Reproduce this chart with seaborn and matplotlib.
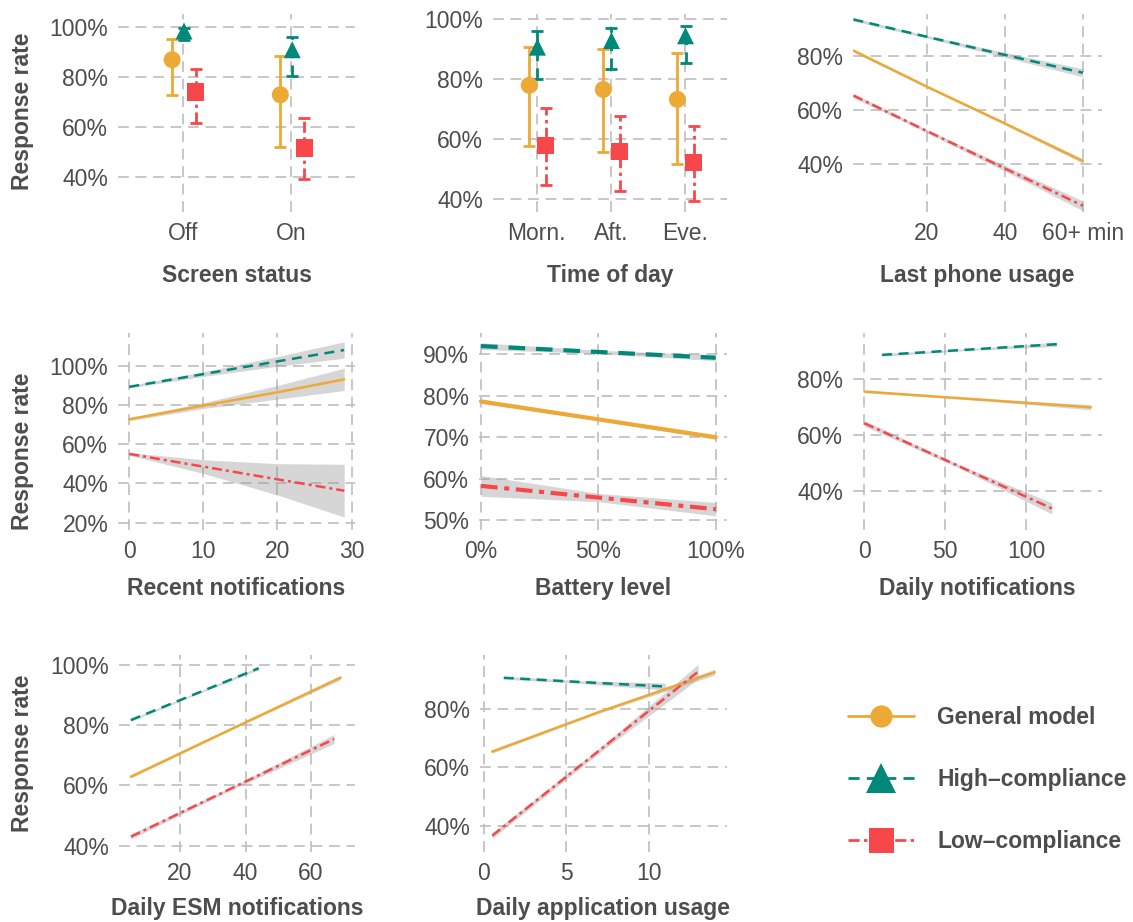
import matplotlib
matplotlib.use("Agg")
import matplotlib.pyplot as plt
import matplotlib.transforms as mtransforms
from matplotlib.lines import Line2D
import pandas as pd
import seaborn as sns

sns.set_theme(style="white")
plt.rcParams['font.family'] = ['Liberation Sans', 'DejaVu Sans']

models = ["General model", "High\u2013compliance", "Low\u2013compliance"]
colors = ["#EDA936", "#00897A", "#F7474A"]
dash_seq = ["", (4, 2.6), (4, 1.6, 1.2, 1.6)]
markers = ["o", "^", "s"]
dodge = [-0.1, 0.01, 0.12]

# --- screen status (point + CI) ---
screen_cats = ["Off", "On"]
screen_gen = [86.9, 72.9]
screen_gen_lo = [72.7, 52.0]
screen_gen_hi = [95.1, 88.4]
screen_high = [98.4, 90.9]
screen_high_lo = [94.7, 80.3]
screen_high_hi = [99.8, 96.0]
screen_low = [74.0, 51.6]
screen_low_lo = [61.7, 39.1]
screen_low_hi = [83.3, 63.7]

# --- time of day (point + CI) ---
tod_cats = ["Morn.", "Aft.", "Eve."]
tod_gen = [77.9, 76.5, 73.2]
tod_gen_lo = [57.8, 55.8, 51.8]
tod_gen_hi = [90.6, 90.1, 88.7]
tod_high = [90.6, 92.8, 94.4]
tod_high_lo = [80.1, 83.4, 85.4]
tod_high_hi = [96.0, 96.9, 97.5]
tod_low = [57.8, 55.8, 52.3]
tod_low_lo = [44.6, 42.7, 39.3]
tod_low_hi = [70.2, 67.7, 64.4]

# --- last phone usage ---
lpu_x = [1.2, 20, 40, 60]
lpu_gen = [82.0, 68.7, 55.1, 41.2]
lpu_gen_se = [0.6, 0.4, 0.5, 0.8]
lpu_high = [93.5, 87.1, 80.4, 73.8]
lpu_high_se = [0.6, 0.5, 0.9, 1.5]
lpu_low = [65.4, 52.3, 38.5, 24.7]
lpu_low_se = [0.8, 0.6, 1.0, 1.8]

# --- recent notifications ---
rn_x = [0, 10, 20, 29]
rn_gen = [72.8, 79.8, 86.6, 93.2]
rn_gen_se = [0.7, 1.5, 3.5, 5.7]
rn_high = [89.4, 95.9, 102.4, 108.2]
rn_high_se = [0.6, 1.2, 2.5, 4.2]
rn_low = [55.1, 48.6, 42.1, 36.3]
rn_low_se = [0.7, 3.5, 8.0, 13.5]

# --- battery level ---
bat_x = [0, 50, 100]
bat_gen = [78.6, 74.3, 70.0]
bat_gen_se = [0.5, 0.3, 0.5]
bat_high = [91.9, 90.5, 89.1]
bat_high_se = [0.8, 0.4, 0.7]
bat_low = [58.3, 55.5, 52.7]
bat_low_se = [2.5, 1.0, 1.6]

# --- daily notifications ---
dn_gen_x = [0, 70, 140]
dn_gen = [75.5, 72.7, 69.9]
dn_gen_se = [0.4, 0.3, 0.9]
dn_high_x = [11, 65, 119]
dn_high = [88.6, 90.5, 92.4]
dn_high_se = [0.5, 0.3, 0.8]
dn_low_x = [0, 58, 116]
dn_low = [64.2, 49.0, 33.8]
dn_low_se = [1.0, 0.6, 2.0]

# --- daily ESM notifications ---
esm_gen_x = [5, 37, 69]
esm_gen = [62.9, 79.4, 95.8]
esm_gen_se = [0.4, 0.3, 0.7]
esm_high_x = [5, 24.5, 44]
esm_high = [81.7, 90.3, 98.9]
esm_high_se = [0.4, 0.3, 0.5]
esm_low_x = [5, 36, 67]
esm_low = [43.0, 59.2, 75.4]
esm_low_se = [0.8, 0.5, 1.5]

# --- daily application usage ---
app_gen_x = [0.5, 7, 14]
app_gen = [65.4, 79.0, 92.6]
app_gen_se = [0.5, 0.4, 1.0]
app_high_x = [1.2, 6, 11]
app_high = [90.7, 89.2, 87.7]
app_high_se = [0.5, 0.5, 1.2]
app_low_x = [0.5, 7, 13]
app_low = [36.6, 65.8, 92.8]
app_low_se = [1.0, 0.8, 2.5]

TXT = "#4D4D4D"
W, H = 1133, 922
fig = plt.figure(figsize=(W / 100, H / 100), dpi=100)


def add_panel(left, right, top, bottom):
    return fig.add_axes([left / W, 1 - bottom / H, (right - left) / W, (bottom - top) / H])


def style(ax, xlim, ylim, xticks, xlabels, yticks, xlab, xlab_top, ylab=None):
    ax.set_xlim(xlim)
    ax.set_ylim(ylim)
    ax.set_xticks(xticks)
    ax.set_xticklabels(xlabels)
    ax.set_yticks(yticks)
    ax.set_yticklabels([f"{v:g}%" for v in yticks])
    ax.grid(True, color="#BEBEBE", linewidth=1.2, linestyle=(0, (6.5, 4)))
    ax.set_axisbelow(True)
    for s in ax.spines.values():
        s.set_visible(False)
    ax.tick_params(length=0, labelsize=16.5, labelcolor=TXT, pad=7)
    ax.set_xlabel(xlab, fontsize=16.5, fontweight="bold", color=TXT)
    tr = mtransforms.blended_transform_factory(ax.transAxes, fig.transFigure)
    ax.xaxis.set_label_coords(0.5, 1 - xlab_top / H, transform=tr)
    if ylab is not None:
        ax.set_ylabel("Response rate", fontsize=16.5, fontweight="bold", color=TXT)
        tr2 = mtransforms.blended_transform_factory(fig.transFigure, fig.transFigure)
        ax.yaxis.set_label_coords(34 / W, 1 - ylab / H, transform=tr2)
    else:
        ax.set_ylabel("")


def point_panel(ax, cats, series):
    rows = []
    for k, (m, rate, lo, hi) in enumerate(series):
        for i in range(len(cats)):
            rows.append({"model": m, "pos": i + dodge[k], "rate": rate[i], "lo": lo[i], "hi": hi[i]})
    df = pd.DataFrame(rows)
    for k, m in enumerate(models):
        d = df[df.model == m]
        eb = ax.errorbar(d.pos, d.rate, yerr=[d.rate - d.lo, d.hi - d.rate], fmt="none",
                         ecolor=colors[k], elinewidth=2.0, capsize=4.2, capthick=2.0, zorder=3)
        if dash_seq[k]:
            eb[2][0].set_linestyle((0, dash_seq[k]))
    sns.scatterplot(data=df, x="pos", y="rate", hue="model", style="model",
                    palette=dict(zip(models, colors)), markers=dict(zip(models, markers)),
                    s=150, linewidth=0, legend=False, ax=ax, zorder=4)


def line_panel(ax, series, lw=1.8):
    rows = []
    for m, xs, ys, se in series:
        for x, y, e in zip(xs, ys, se):
            rows.append({"model": m, "x": x, "y": y, "lo": y - e, "hi": y + e})
    df = pd.DataFrame(rows)
    for m in models:
        d = df[df.model == m]
        ax.fill_between(d.x, d.lo, d.hi, color="#999999", alpha=0.4, linewidth=0, zorder=2)
    sns.lineplot(data=df, x="x", y="y", hue="model", style="model",
                 palette=dict(zip(models, colors)), dashes=dict(zip(models, dash_seq)),
                 estimator=None, linewidth=lw, legend=False, ax=ax, zorder=3)


# row 1
ax1 = add_panel(118, 355, 14, 212)
point_panel(ax1, screen_cats, [
    (models[0], screen_gen, screen_gen_lo, screen_gen_hi),
    (models[1], screen_high, screen_high_lo, screen_high_hi),
    (models[2], screen_low, screen_low_lo, screen_low_hi)])
style(ax1, (-0.6, 1.59), (26, 105.2), [0, 1], screen_cats, [40, 60, 80, 100],
      "Screen status", 264, ylab=111.5)

ax2 = add_panel(493, 727, 14, 212)
point_panel(ax2, tod_cats, [
    (models[0], tod_gen, tod_gen_lo, tod_gen_hi),
    (models[1], tod_high, tod_high_lo, tod_high_hi),
    (models[2], tod_low, tod_low_lo, tod_low_hi)])
style(ax2, (-0.59, 2.57), (35.7, 101.65), [0, 1, 2], tod_cats, [40, 60, 80, 100],
      "Time of day", 264)

ax3 = add_panel(853, 1102, 14, 212)
line_panel(ax3, [(models[0], lpu_x, lpu_gen, lpu_gen_se),
                 (models[1], lpu_x, lpu_high, lpu_high_se),
                 (models[2], lpu_x, lpu_low, lpu_low_se)])
style(ax3, (1.1, 64.9), (22.4, 95.5), [20, 40, 60], ["20", "40", "60+ min"], [40, 60, 80],
      "Last phone usage", 264)

# row 2
ax4 = add_panel(118, 355, 333, 530)
line_panel(ax4, [(models[0], rn_x, rn_gen, rn_gen_se),
                 (models[1], rn_x, rn_high, rn_high_se),
                 (models[2], rn_x, rn_low, rn_low_se)])
style(ax4, (-1.52, 30.46), (16.2, 116.9), [0, 10, 20, 30], ["0", "10", "20", "30"],
      [20, 40, 60, 80, 100], "Recent notifications", 577, ylab=451)

ax5 = add_panel(479, 727, 333, 530)
line_panel(ax5, [(models[0], bat_x, bat_gen, bat_gen_se),
                 (models[1], bat_x, bat_high, bat_high_se),
                 (models[2], bat_x, bat_low, bat_low_se)], lw=3.0)
style(ax5, (-0.85, 104.8), (47.7, 95.05), [0, 50, 100], ["0%", "50%", "100%"],
      [50, 60, 70, 80, 90], "Battery level", 577)

ax6 = add_panel(853, 1102, 333, 530)
line_panel(ax6, [(models[0], dn_gen_x, dn_gen, dn_gen_se),
                 (models[1], dn_high_x, dn_high, dn_high_se),
                 (models[2], dn_low_x, dn_low, dn_low_se)])
style(ax6, (-7.0, 147.0), (26.1, 96.4), [0, 50, 100], ["0", "50", "100"], [40, 60, 80],
      "Daily notifications", 577)

# row 3
ax7 = add_panel(119, 355, 655, 852)
line_panel(ax7, [(models[0], esm_gen_x, esm_gen, esm_gen_se),
                 (models[1], esm_high_x, esm_high, esm_high_se),
                 (models[2], esm_low_x, esm_low, esm_low_se)])
style(ax7, (1.37, 73.4), (37.9, 103.3), [20, 40, 60], ["20", "40", "60"], [40, 60, 80, 100],
      "Daily ESM notifications", 897, ylab=753)

ax8 = add_panel(480, 727, 655, 852)
line_panel(ax8, [(models[0], app_gen_x, app_gen, app_gen_se),
                 (models[1], app_high_x, app_high, app_high_se),
                 (models[2], app_low_x, app_low, app_low_se)])
style(ax8, (-0.24, 14.75), (31.0, 98.5), [0, 5, 10], ["0", "5", "10"], [40, 60, 80],
      "Daily application usage", 897)

# legend
msizes = [16, 21, 18]
handles = [Line2D([0], [0], color=colors[k], linewidth=2.0,
                  linestyle="-" if not dash_seq[k] else (0, dash_seq[k]),
                  marker=markers[k], markersize=msizes[k], markeredgewidth=0)
           for k in range(3)]
fig.legend(handles, models, loc="upper left", bbox_to_anchor=(848 / W, 1 - 706 / H),
           frameon=False, handlelength=2.9, handletextpad=1.0, labelspacing=1.7,
           borderpad=0, borderaxespad=0, labelcolor=TXT,
           prop={"size": 16.5, "weight": "bold"})

fig.savefig("out.png", dpi=100)
